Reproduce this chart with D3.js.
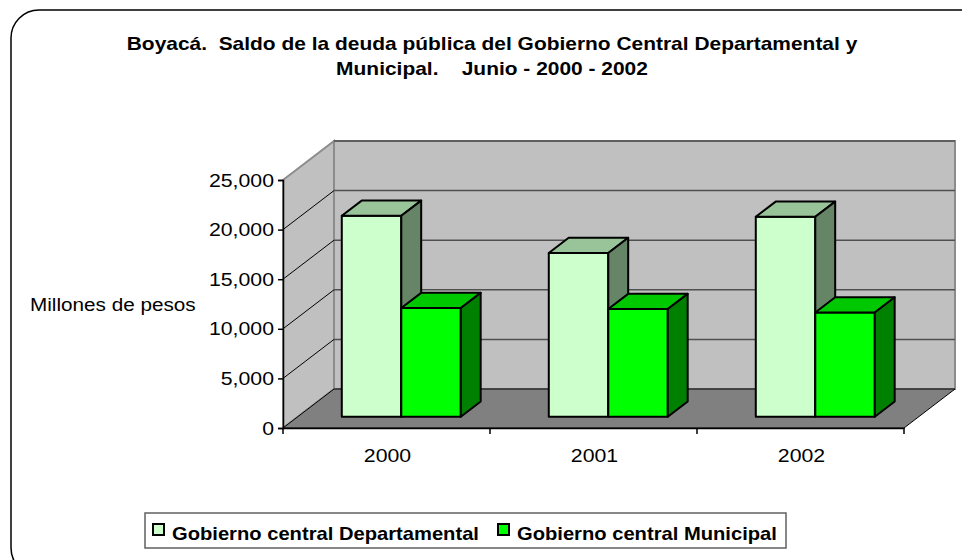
<!DOCTYPE html>
<html>
<head>
<meta charset="utf-8">
<script src="https://cdn.jsdelivr.net/npm/d3@7"></script>
<style>
	body { margin: 0; background: #fff; }
	text { font-family: "Liberation Sans", Arial, sans-serif; fill: #000; }
</style>
</head>
<body>
<svg id="chart" width="962" height="560" viewBox="0 0 962 560"></svg>
<script>
const categories = ["2000", "2001", "2002"];
const seriesNames = ["Gobierno central Departamental", "Gobierno central Municipal"];
const departamental = [20250, 16500, 20150];
const municipal = [10950, 10850, 10500];
const yTicks = [0, 5000, 10000, 15000, 20000, 25000];

// face colours per series: front, top, side
const faces = [
	{ front: "#ccffcc", top: "#99c499", side: "#668566" },
	{ front: "#00ff00", top: "#00c800", side: "#008000" }
];

const SX = 1.12; // text in the picture is a little stretched sideways
const DX = 51, DY = 39; // depth of the plot box
const D0 = 0.29, D1 = 0.68; // bar depth span inside the box

const svg = d3.select("#chart");

const y = d3.scaleLinear().domain([0, 25000]).range([428, 180]);
const x = d3.scaleBand().domain(categories).range([283, 904]);
const fmt = d3.format(",");

function txt(g, px, py, s, size, weight, anchor) {
	return g.append("text")
		.attr("transform", `translate(${px},${py}) scale(${SX},1)`)
		.attr("font-size", size)
		.attr("font-weight", weight || "normal")
		.attr("text-anchor", anchor || "start")
		.style("white-space", "pre")
		.text(s);
}

// outer frame (runs off the right and bottom edges)
svg.append("rect")
	.attr("x", 11).attr("y", 10)
	.attr("width", 1000).attr("height", 566)
	.attr("rx", 28)
	.attr("fill", "none")
	.attr("stroke", "#000")
	.attr("stroke-width", 1.5);

// title
txt(svg, 492, 50, "Boyacá.  Saldo de la deuda pública del Gobierno Central Departamental y", 18.7, "bold", "middle");
txt(svg, 492, 75, "Municipal.    Junio - 2000 - 2002", 18.7, "bold", "middle");

const x0 = x.range()[0], x1 = x.range()[1];
const pt = (px, py, d) => [px + d * DX, py - d * DY];
const line = d3.line();

const walls = svg.append("g");
// side wall
walls.append("path")
	.attr("d", line([[x0, y(25000)], pt(x0, y(25000), 1), pt(x0, y(0), 1), [x0, y(0)]]) + "Z")
	.attr("fill", "#c0c0c0")
	.attr("stroke", "#8c8c8c")
	.attr("stroke-width", 2);
// back wall
walls.append("path")
	.attr("d", line([pt(x0, y(25000), 1), pt(x1, y(25000), 1), pt(x1, y(0), 1), pt(x0, y(0), 1)]) + "Z")
	.attr("fill", "#c0c0c0")
	.attr("stroke", "#8c8c8c")
	.attr("stroke-width", 2);
// floor
walls.append("path")
	.attr("d", line([[x0, y(0)], pt(x0, y(0), 1), pt(x1, y(0), 1), [x1, y(0)]]) + "Z")
	.attr("fill", "#808080")
	.attr("stroke", "#000")
	.attr("stroke-width", 1);

// gridlines on side and back walls
yTicks.filter(v => v > 0 && v < 25000).forEach(v => {
	walls.append("path")
		.attr("d", line([[x0, y(v)], pt(x0, y(v), 1)]))
		.attr("stroke", "#000")
		.attr("stroke-width", 1);
	walls.append("path")
		.attr("d", line([pt(x0, y(v), 1), pt(x1, y(v), 1)]))
		.attr("stroke", "#505050")
		.attr("stroke-width", 1.5);
});
walls.append("path")
	.attr("d", line([pt(x0, y(25000), 1), pt(x1, y(25000), 1)]))
	.attr("stroke", "#505050")
	.attr("stroke-width", 1.5);

// axes
const yAxis = svg.append("g")
	.attr("transform", `translate(${x0},0)`)
	.call(d3.axisLeft(y).tickValues(yTicks).tickSize(5).tickFormat(""));
const xAxis = svg.append("g")
	.attr("transform", `translate(0,${y(0)})`)
	.call(d3.axisBottom(x).tickValues([]).tickSizeOuter(0));
[yAxis, xAxis].forEach(a => {
	a.selectAll("path, line").attr("stroke", "#000").attr("stroke-width", 1.5);
});
// category boundary ticks
xAxis.selectAll(".bnd")
	.data(categories.map(c => x(c)).concat([x1]))
	.enter().append("line")
	.attr("x1", d => d).attr("x2", d => d)
	.attr("y1", 0).attr("y2", 6)
	.attr("stroke", "#000").attr("stroke-width", 1.5);

yTicks.forEach(v => txt(svg, 274, y(v) + 6.5, fmt(v), 19, "normal", "end"));
categories.forEach(c => txt(svg, x(c) + x.bandwidth() / 2 + 1, 462, c, 19, "normal", "middle"));
txt(svg, 30, 311, "Millones de pesos", 18.5, "normal", "start");

// bars
const barW = 59.5;
const bars = svg.append("g").attr("stroke", "#000").attr("stroke-width", 2).attr("stroke-linejoin", "round");
categories.forEach((c, i) => {
	const cx = x(c) + x.bandwidth() / 2;
	[departamental[i], municipal[i]].forEach((v, s) => {
		const l = cx - barW + s * barW, r = l + barW;
		const f = faces[s];
		const fl0 = pt(l, y(0), D0), fr0 = pt(r, y(0), D0);
		const flt = pt(l, y(v), D0), frt = pt(r, y(v), D0);
		const blt = pt(l, y(v), D1), brt = pt(r, y(v), D1), br0 = pt(r, y(0), D1);
		bars.append("path").attr("d", line([fl0, flt, frt, fr0]) + "Z").attr("fill", f.front);
		bars.append("path").attr("d", line([flt, blt, brt, frt]) + "Z").attr("fill", f.top);
		bars.append("path").attr("d", line([fr0, frt, brt, br0]) + "Z").attr("fill", f.side);
	});
});

// legend
const lg = svg.append("g");
lg.append("rect")
	.attr("x", 145).attr("y", 513)
	.attr("width", 641).attr("height", 35)
	.attr("fill", "#fff")
	.attr("stroke", "#606060")
	.attr("stroke-width", 1.5);
const legendX = [153, 498];
seriesNames.forEach((n, s) => {
	lg.append("rect")
		.attr("x", legendX[s]).attr("y", 524)
		.attr("width", 11).attr("height", 11)
		.attr("fill", faces[s].front)
		.attr("stroke", "#000")
		.attr("stroke-width", 2);
	txt(lg, legendX[s] + 19, 540, n, 18, "bold", "start");
});
</script>
</body>
</html>
